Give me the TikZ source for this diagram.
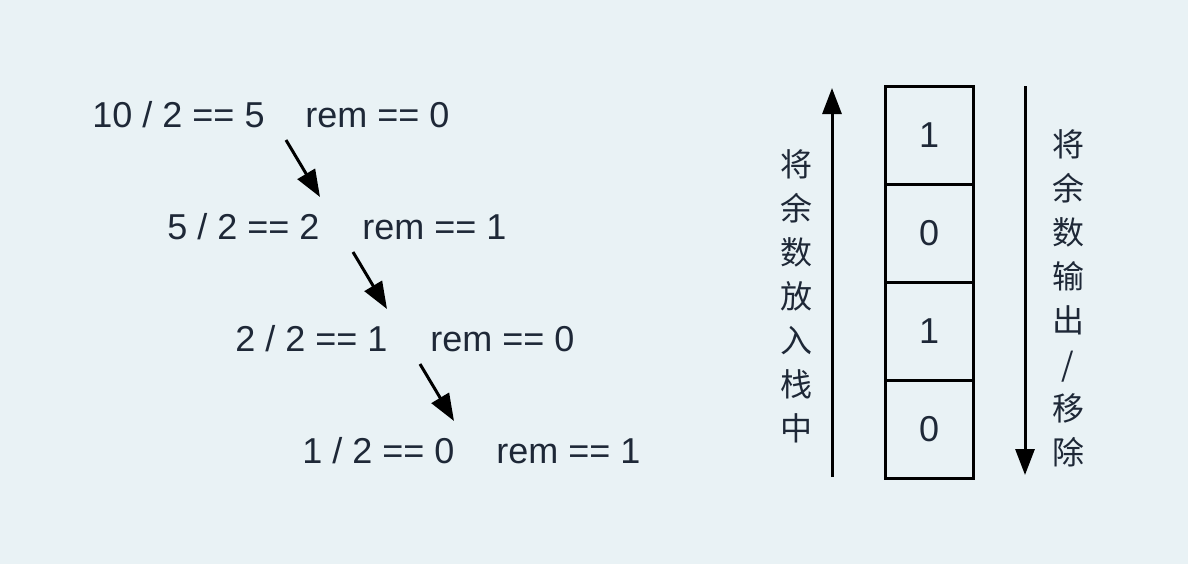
\documentclass[tikz,border=0pt]{standalone}
\usepackage{fontspec}
\setmainfont{Liberation Sans}
\newfontfamily\cjk{Noto Sans CJK SC}
\usetikzlibrary{arrows.meta}
\definecolor{bg}{HTML}{E9F2F5}
\definecolor{ink}{RGB}{30,40,55}
\begin{document}
\begin{tikzpicture}[x=0.5pt,y=-0.5pt,
  eq/.style={anchor=base west, inner sep=0pt, text=ink, font=\fontsize{18}{22}\selectfont},
  cell/.style={draw=black, line width=1.5pt, minimum width=44pt, minimum height=49pt, inner sep=0pt, text=ink, font=\fontsize{18}{22}\selectfont},
  vtext/.style={align=center, inner sep=0pt, text=ink, font=\cjk\fontsize{16}{22}\selectfont},
  diag/.style={line width=1.5pt, -{Triangle[length=13.5pt,width=10pt]}},
  vert/.style={line width=1.5pt, -{Triangle[length=13pt,width=9.5pt]}}]
\fill[bg] (0,0) rectangle (1188,564);
\useasboundingbox (0,0) rectangle (1188,564);
% equations
\node[eq] (d1) at (92,127) {10 / 2 == 5};
\node[eq] (r1) at (305,127) {rem == 0};
\node[eq] (d2) at (167,239) {5 / 2 == 2};
\node[eq] (r2) at (362,239) {rem == 1};
\node[eq] (d3) at (235,351) {2 / 2 == 1};
\node[eq] (r3) at (430,351) {rem == 0};
\node[eq] (d4) at (302,463) {1 / 2 == 0};
\node[eq] (r4) at (496,463) {rem == 1};
% diagonal arrow ends
\coordinate (a1s) at (286,140); \coordinate (a1e) at (320,197);
\coordinate (a2s) at (353,252); \coordinate (a2e) at (387,309);
\coordinate (a3s) at (420,364); \coordinate (a3e) at (454,421);
\draw[diag] (a1s) -- (a1e);
\draw[diag] (a2s) -- (a2e);
\draw[diag] (a3s) -- (a3e);
% stack
\node[cell] (c1) at (929,135) {1};
\node[cell] (c2) at (929,233) {0};
\node[cell] (c3) at (929,331) {1};
\node[cell] (c4) at (929,429) {0};
% vertical arrows
\coordinate (pushs) at (832,477); \coordinate (pushe) at (832,88);
\coordinate (pops) at (1025,86); \coordinate (pope) at (1025,475);
\draw[vert] (pushs) -- (pushe);
\draw[vert] (pops) -- (pope);
% vertical labels
\node[vtext] (lpush) at (796,296) {将\\余\\数\\放\\入\\栈\\中};
\node[vtext] (lpop) at (1068,298) {将\\余\\数\\输\\出\\/\\移\\除};
\end{tikzpicture}
\end{document}
